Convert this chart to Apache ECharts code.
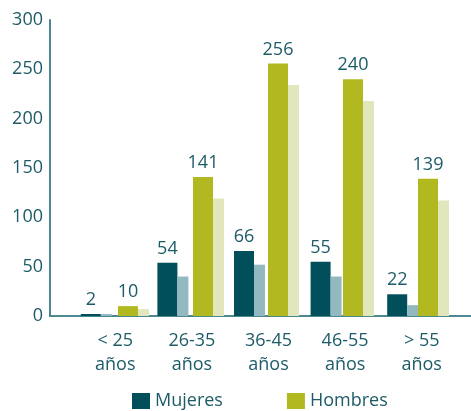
<!DOCTYPE html>
<html>
<head>
<meta charset="utf-8">
<script src="https://cdn.jsdelivr.net/npm/echarts@6/dist/echarts.min.js"></script>
<style>
  html, body { margin: 0; padding: 0; background: #fff; }
  #chart { width: 471px; height: 411px; }
</style>
</head>
<body>
<div id="chart"></div>
<script>
// 数据
const categories = ['< 25\naños', '26-35\naños', '36-45\naños', '46-55\naños', '> 55\naños']
const mujeres = [2, 54, 66, 55, 22]
const mujeresPrev = [2, 40, 52, 40, 11]
const hombres = [10, 141, 256, 240, 139]
const hombresPrev = [7, 119, 234, 218, 117]
const yTicks = [0, 50, 100, 150, 200, 250, 300]

const textColor = '#1d5b68'
const font = 'Open Sans'
const gridTop = 20
const gridBottom = 95

const chart = echarts.init(document.getElementById('chart'))

// 叠放的 grid：0 画坐标轴，1 女性柱，2 男性柱，3 类目标签
const grids = [
  { left: 50, right: 0, top: gridTop, bottom: gridBottom },
  { left: 58, width: 383, top: gridTop, bottom: gridBottom },
  { left: 96, width: 383, top: gridTop, bottom: gridBottom },
  { left: 77, width: 383, top: gridTop, bottom: gridBottom },
]

const hiddenY = i => ({
  type: 'value', gridIndex: i, min: 0, max: 300, interval: 50, show: false,
})
const hiddenX = i => ({
  type: 'category', gridIndex: i, data: categories, show: false,
})

const label = {
  show: true,
  position: 'top',
  distance: 5,
  color: textColor,
  fontSize: 18,
  fontFamily: font,
}

const option = {
  animation: false,
  textStyle: { fontFamily: font },
  grid: grids,
  xAxis: [
    {
      type: 'category',
      gridIndex: 0,
      data: categories,
      axisLine: { lineStyle: { color: '#4d8791', width: 2 } },
      axisTick: { show: false },
      axisLabel: { show: false },
    },
    hiddenX(1),
    hiddenX(2),
    {
      type: 'category',
      gridIndex: 3,
      data: categories,
      axisLine: { show: false },
      axisTick: { show: false },
      axisLabel: {
        color: textColor,
        fontSize: 18,
        fontFamily: font,
        lineHeight: 24,
        margin: 13,
        interval: 0,
      },
    },
  ],
  yAxis: [
    {
      type: 'value',
      gridIndex: 0,
      min: yTicks[0],
      max: yTicks[yTicks.length - 1],
      interval: 50,
      axisLine: { show: true, lineStyle: { color: '#4d8791', width: 2 } },
      axisTick: { show: false },
      splitLine: { show: false },
      axisLabel: { color: textColor, fontSize: 18, fontFamily: font, margin: 7 },
    },
    hiddenY(1),
    hiddenY(2),
    hiddenY(3),
  ],
  legend: {
    data: ['Mujeres', 'Hombres'],
    left: 127,
    top: 387,
    icon: 'rect',
    itemWidth: 18,
    itemHeight: 16,
    itemGap: 64,
    textStyle: { color: textColor, fontSize: 18, fontFamily: font, padding: [0, 0, 0, 0] },
  },
  series: [
    {
      name: 'Mujeres',
      type: 'bar',
      xAxisIndex: 1,
      yAxisIndex: 1,
      data: mujeres,
      barWidth: 20,
      barGap: '0%',
      itemStyle: { color: '#004f5a' },
      label,
    },
    {
      name: 'Mujeres anterior',
      type: 'bar',
      xAxisIndex: 1,
      yAxisIndex: 1,
      data: mujeresPrev,
      barWidth: 11,
      barGap: '0%',
      itemStyle: { color: '#93b9c0' },
    },
    {
      name: 'Hombres',
      type: 'bar',
      xAxisIndex: 2,
      yAxisIndex: 2,
      data: hombres,
      barWidth: 20,
      barGap: '0%',
      itemStyle: { color: '#b2b920' },
      label,
    },
    {
      name: 'Hombres anterior',
      type: 'bar',
      xAxisIndex: 2,
      yAxisIndex: 2,
      data: hombresPrev,
      barWidth: 11,
      barGap: '0%',
      itemStyle: { color: '#e2e6bd' },
    },
  ],
}

chart.setOption(option)
</script>
</body>
</html>
